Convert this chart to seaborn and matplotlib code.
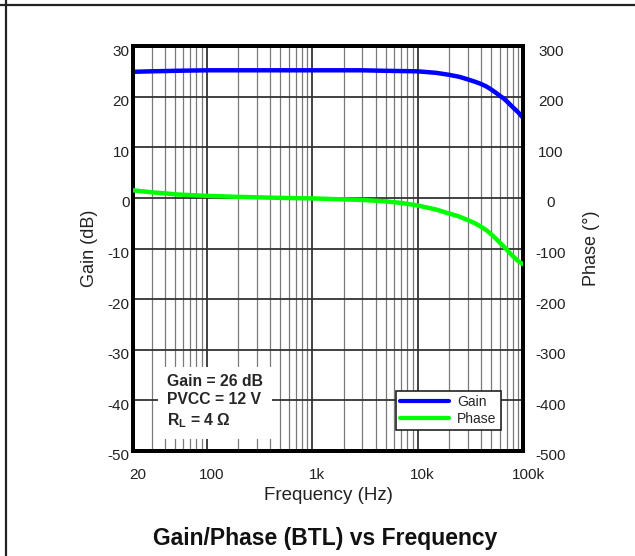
import numpy as np
import pandas as pd
import seaborn as sns
import matplotlib
matplotlib.use("Agg")
import matplotlib.pyplot as plt
import matplotlib.transforms as mtransforms
from matplotlib.lines import Line2D
from matplotlib.ticker import FixedLocator, LogLocator, NullFormatter

# ---- data ----
freq = [20, 30, 40, 50, 70, 100, 200, 500, 1000, 2000, 3000, 5000, 7000,
        10000, 15000, 20000, 25000, 30000, 35000, 40000, 45000, 50000, 55000,
        60000, 65000, 70000, 75000, 80000, 85000, 90000, 95000, 100000]
gain_db = [24.9, 25.0, 25.05, 25.1, 25.15, 25.2, 25.2, 25.2, 25.2, 25.2, 25.2,
           25.1, 25.05, 25.0, 24.7, 24.3, 23.9, 23.4, 22.95, 22.5, 22.0, 21.4,
           20.8, 20.2, 19.7, 19.1, 18.5, 17.9, 17.4, 16.9, 16.35, 15.8]
phase_deg = [15, 11, 9, 7, 5.5, 4, 2, 0, -1, -3, -4, -7, -10, -15, -23, -31,
             -37, -44, -50, -57, -64, -72, -80, -88, -95, -102, -109, -115,
             -120, -125, -128, -131]
x_ticks = [20, 100, 1000, 10000, 100000]
x_ticklabels = ["20", "100", "1k", "10k", "100k"]
gain_ticks = [-50, -40, -30, -20, -10, 0, 10, 20, 30]
phase_ticks = [-500, -400, -300, -200, -100, 0, 100, 200, 300]
annotation_lines = ["Gain = 26 dB", "PVCC = 12 V", r"R$_\mathbf{L}$ = 4 Ω"]

df = pd.DataFrame({"freq": freq, "gain": gain_db, "phase": phase_deg})

sns.set_style("white")
plt.rcParams["font.family"] = ["Liberation Sans", "DejaVu Sans"]
plt.rcParams["mathtext.fontset"] = "custom"
plt.rcParams["mathtext.rm"] = "Liberation Sans"
plt.rcParams["mathtext.bf"] = "Liberation Sans:bold"

W, H = 635, 556
fig = plt.figure(figsize=(W / 100, H / 100), dpi=100)
L, R, T, B = 133, 523, 46, 451
ax = fig.add_axes([L / W, 1 - B / H, (R - L) / W, (B - T) / H])
ax2 = ax.twinx()

sns.lineplot(data=df, x="freq", y="gain", ax=ax, color="#0000FF", lw=3.2,
             label="Gain", legend=False, zorder=4)
sns.lineplot(data=df, x="freq", y="phase", ax=ax2, color="#00FF00", lw=3.2,
             label="Phase", legend=False, zorder=4)

ax.set_xscale("log")
ax.set_xlim(20, 100000)
ax.set_ylim(-50, 30)
ax2.set_ylim(-500, 300)

ax.xaxis.set_major_locator(FixedLocator(x_ticks))
ax.set_xticklabels(x_ticklabels)
ax.xaxis.set_minor_locator(LogLocator(base=10, subs=np.arange(2, 10)))
ax.xaxis.set_minor_formatter(NullFormatter())
ax.set_yticks(gain_ticks)
ax.set_yticklabels([str(v) for v in gain_ticks])
ax2.set_yticks(phase_ticks)
ax2.set_yticklabels([str(v) for v in phase_ticks])

ax.grid(True, which="major", axis="both", color="#333333", lw=1.3, zorder=1)
ax.grid(True, which="minor", axis="x", color="#7a7a7a", lw=0.9, zorder=1)
ax2.grid(False)

ax.tick_params(axis="x", which="both", length=0, pad=12, labelsize=11,
               colors="#222222")
ax.tick_params(axis="y", which="both", length=0, pad=2.5, labelsize=11,
               colors="#222222")
ax2.tick_params(axis="y", length=0, pad=20, labelsize=11, colors="#222222")

xshift = mtransforms.ScaledTranslation(5 / 100, 0, fig.dpi_scale_trans)
yshift = mtransforms.ScaledTranslation(0, -4 / 100, fig.dpi_scale_trans)
for lab in ax.get_xticklabels():
    lab.set_transform(lab.get_transform() + xshift)
for lab in ax.get_yticklabels():
    lab.set_transform(lab.get_transform() + yshift)
for lab in ax2.get_yticklabels():
    lab.set_horizontalalignment("center")
    lab.set_transform(lab.get_transform() + yshift)

for a in (ax, ax2):
    for s in a.spines.values():
        s.set_linewidth(2.8)
        s.set_color("black")

ax.set_xlabel("Frequency (Hz)", fontsize=13.5, color="#222222", va="center")
ax.xaxis.set_label_coords(0.5, (B - 495) / (B - T))
ax.set_ylabel("Gain (dB)", fontsize=13, color="#222222", va="center")
ax.yaxis.set_label_coords((89 - L) / (R - L), 0.5)
ax2.set_ylabel("Phase (°)", fontsize=13, color="#222222", va="center",
               rotation=90)
ax2.yaxis.set_label_coords((592 - L) / (R - L), 0.5)

ax.text((167 - L) / (R - L), (B - 402) / (B - T), "\n".join(annotation_lines),
        transform=ax.transAxes, ha="left", va="center", fontsize=11.3,
        fontweight="bold", linespacing=1.25, zorder=6,
        bbox=dict(boxstyle="square,pad=0.6", fc="white", ec="none"))

handles = [Line2D([], [], color="#0000FF", lw=3), Line2D([], [], color="#00FF00", lw=3)]
leg = ax2.legend(handles, ["Gain", "Phase"], loc="lower left",
                 bbox_to_anchor=((396 - L) / (R - L), (B - 430) / (B - T)),
                 borderaxespad=0, fontsize=10, frameon=True, fancybox=False,
                 framealpha=1, edgecolor="#222222", handlelength=3.5,
                 handletextpad=0.6, borderpad=0.3, labelspacing=0.2)
leg.get_frame().set_linewidth(1.2)
leg.set_zorder(10)

fig.text((153 + 498) / 2 / W, 1 - 538 / H, "Gain/Phase (BTL) vs Frequency",
         ha="center", va="center", fontsize=16.5, fontweight="bold",
         color="#111111")

fig.add_artist(Line2D([0, 1], [1 - 5 / H, 1 - 5 / H], transform=fig.transFigure,
                      color="#222222", lw=1.6))
fig.add_artist(Line2D([6 / W, 6 / W], [0, 1], transform=fig.transFigure,
                      color="#222222", lw=1.6))

fig.savefig("out.png", dpi=100)
